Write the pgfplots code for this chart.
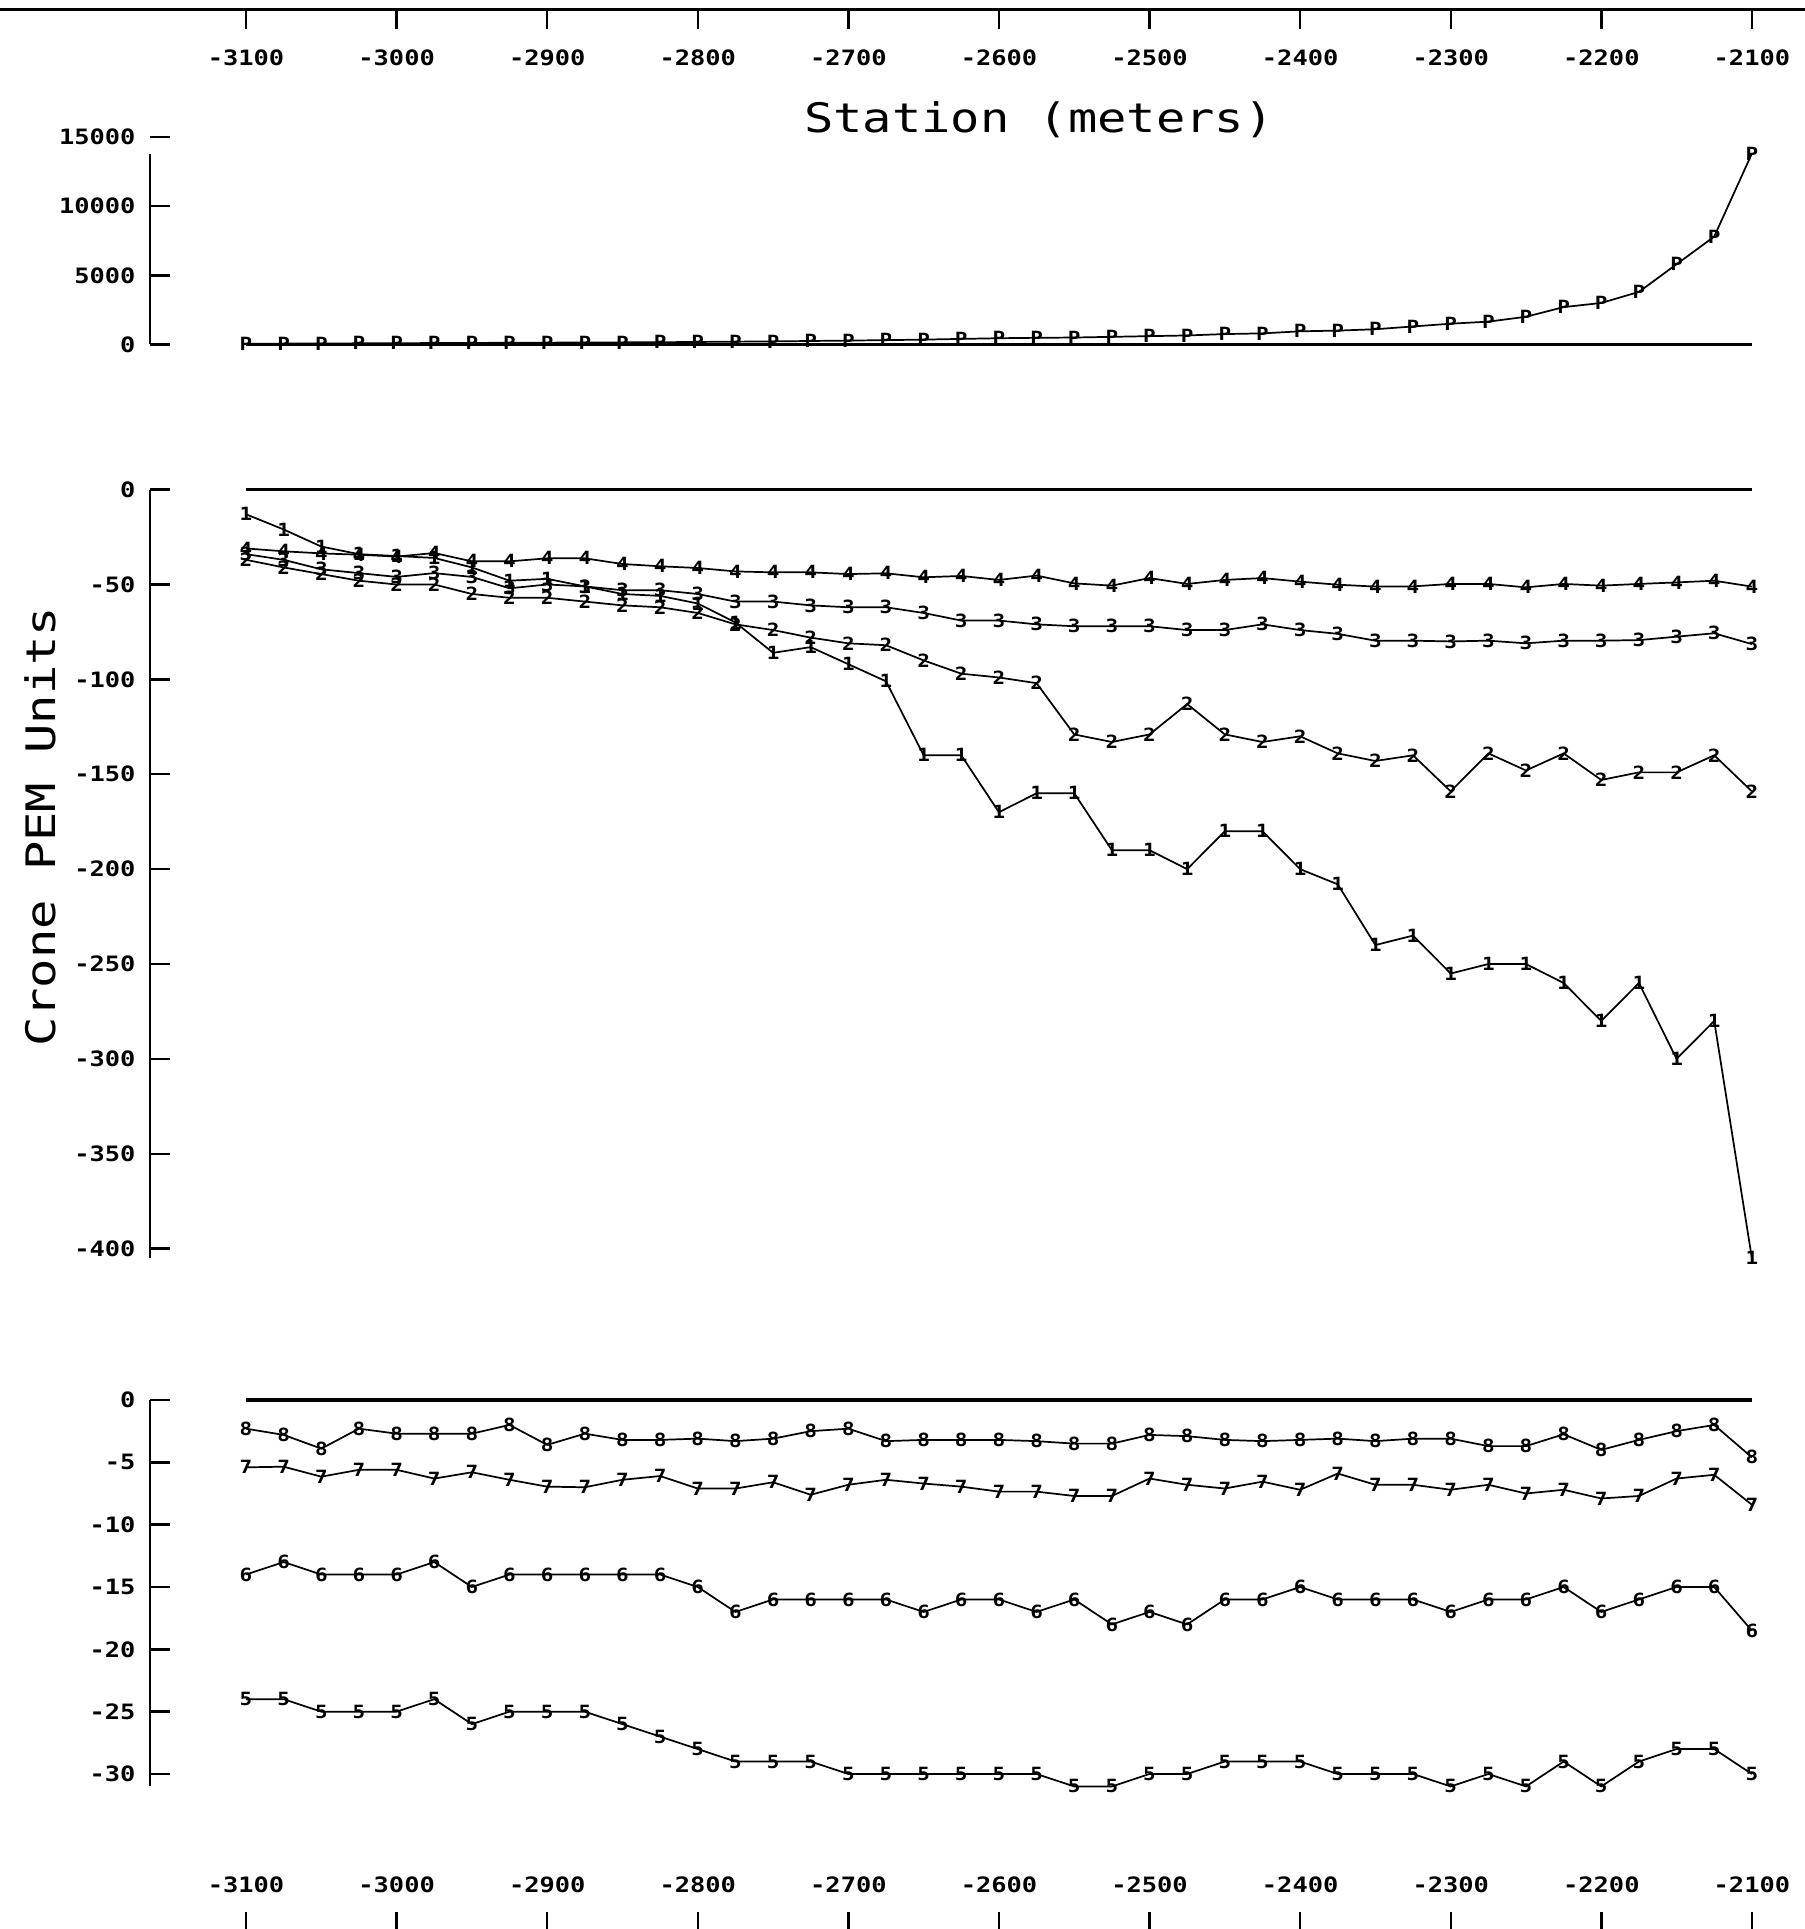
\documentclass[border=0pt]{standalone}
\usepackage{fontspec}
\usepackage{pgfplots}
\usepackage{pgfplotstable}
\pgfplotsset{compat=1.18}
\newfontfamily\monoA[FakeStretch=1.2]{DejaVu Sans Mono}
\newfontfamily\monoB[FakeStretch=1.15]{DejaVu Sans Mono}
\newcommand\tickf{\monoA\bfseries\fontsize{8.6}{10}\selectfont}
\newcommand\markf{\monoB\bfseries\fontsize{7.4}{8}\selectfont}
\newcommand\titlef{\monoA\fontsize{16.5}{18}\selectfont}

\pgfplotstableread{
S P L1 L2 L3 L4 L5 L6 L7 L8
-3100 50 -13 -37 -34 -31 -24 -14 -5.4 -2.3
-3075 60 -21 -41 -37 -32.5 -24 -13 -5.35 -2.8
-3050 70 -30 -44.5 -42 -33.6 -25 -14 -6.15 -3.9
-3025 80 -34 -48 -44 -34.3 -25 -14 -5.6 -2.3
-3000 90 -35 -50 -46 -35.3 -25 -14 -5.6 -2.7
-2975 100 -36 -50 -44 -33.4 -24 -13 -6.3 -2.7
-2950 110 -41 -55 -46 -37.8 -26 -15 -5.8 -2.7
-2925 120 -48 -57 -52 -37.8 -25 -14 -6.4 -2.0
-2900 130 -47 -57 -50 -36.2 -25 -14 -6.95 -3.6
-2875 140 -51 -59 -51 -36.2 -25 -14 -7.0 -2.7
-2850 150 -55 -61 -53 -39.2 -26 -14 -6.4 -3.2
-2825 160 -56 -62 -53 -40.4 -27 -14 -6.1 -3.2
-2800 180 -60 -65 -55 -41.3 -28 -15 -7.1 -3.1
-2775 200 -70 -71 -59 -43.1 -29 -17 -7.1 -3.3
-2750 220 -86 -74 -59 -43.6 -29 -16 -6.6 -3.1
-2725 250 -83 -78 -61 -43.6 -29 -16 -7.6 -2.5
-2700 280 -92 -81 -62 -44.5 -30 -16 -6.8 -2.3
-2675 310 -101 -82 -62 -44.1 -30 -16 -6.4 -3.3
-2650 350 -140 -90 -65 -46.2 -30 -17 -6.7 -3.2
-2625 400 -140 -97 -69 -45.5 -30 -16 -6.95 -3.2
-2600 450 -170 -99 -69 -47.6 -30 -16 -7.35 -3.2
-2575 480 -160 -102 -71 -45.3 -30 -17 -7.35 -3.3
-2550 500 -160 -129 -72 -49.4 -31 -16 -7.7 -3.5
-2525 550 -190 -133 -72 -50.6 -31 -18 -7.7 -3.5
-2500 600 -190 -129 -72 -46.6 -30 -17 -6.3 -2.8
-2475 650 -200 -113 -74 -49.7 -30 -18 -6.8 -2.9
-2450 750 -180 -129 -74 -47.6 -29 -16 -7.1 -3.2
-2425 800 -180 -133 -71 -46.6 -29 -16 -6.55 -3.3
-2400 950 -200 -130 -74 -48.5 -29 -15 -7.2 -3.2
-2375 1000 -208 -139 -76 -50.1 -30 -16 -5.9 -3.1
-2350 1100 -240 -143 -79.6 -51.1 -30 -16 -6.8 -3.3
-2325 1300 -235 -140 -79.6 -51.0 -30 -16 -6.8 -3.1
-2300 1500 -255 -159 -80 -49.7 -31 -17 -7.2 -3.1
-2275 1650 -250 -139 -79.6 -49.7 -30 -16 -6.8 -3.7
-2250 2000 -250 -148 -81 -51.5 -31 -16 -7.5 -3.7
-2225 2700 -260 -139 -79.6 -49.7 -29 -15 -7.2 -2.75
-2200 3000 -280 -153 -79.6 -50.6 -31 -17 -7.9 -4.0
-2175 3800 -260 -149 -79.3 -49.7 -29 -16 -7.7 -3.2
-2150 5800 -300 -149 -77.5 -48.9 -28 -15 -6.3 -2.5
-2125 7800 -280 -140 -75.7 -48.0 -28 -15 -6.0 -2.0
-2100 13800 -405 -159 -81.4 -51.1 -30 -18.5 -8.4 -4.6
}\data

\pgfplotsset{
  panel/.style={scale only axis, anchor=south west, width=651pt,
    xmin=-3163.7, xmax=-2100, axis line style={draw=none},
    xtick=\empty, ytick pos=left, tick align=inside,
    major tick length=8pt, tick style={line width=1pt, black},
    scaled y ticks=false,
    yticklabel style={font=\tickf, inner sep=0pt, anchor=east, xshift=-5.75pt},
    clip=false},
  ser/.style={line width=0.7pt, black, mark=text, text mark={#1},
    text mark as node=true, text mark style={font=\markf, inner sep=0pt}},
  xaxisrow/.style={scale only axis, width=733.5pt, height=5pt,
    xmin=-3263.4, xmax=-2064.9, ymin=0, ymax=1, axis y line=none,
    xtick={-3100,-3000,...,-2100},
    xticklabels={-3100,-3000,-2900,-2800,-2700,-2600,-2500,-2400,-2300,-2200,-2100},
    tick style={line width=1pt, black}},
}

\begin{document}
\begin{tikzpicture}
\useasboundingbox (0,0) rectangle (733.5pt,784pt);

% top x axis
\begin{axis}[xaxisrow, anchor=south west, at={(0pt,780pt)},
  axis x line=bottom, axis line style={-, line width=1.3pt},
  tick align=outside, major tick length=8pt,
  xticklabel style={font=\tickf, inner sep=0pt, anchor=north, yshift=-8pt}]
\addplot[draw=none] coordinates {(-3000,0.5)};
\end{axis}

% bottom x axis
\begin{axis}[xaxisrow, anchor=south west, at={(0pt,0pt)},
  axis x line=bottom, axis line style={draw=none},
  tick align=inside, major tick length=7pt,
  xticklabel style={font=\tickf, inner sep=0pt, anchor=south, yshift=14.5pt}]
\addplot[draw=none] coordinates {(-3000,0.5)};
\end{axis}

% top panel
\begin{axis}[panel, at={(61pt,644pt)}, height=84.3pt, ymin=0, ymax=15000,
  ytick={0,5000,10000,15000}, yticklabels={0,5000,10000,15000}]
\addplot[line width=1pt] coordinates {(-3163.7,0) (-3163.7,13800)};
\addplot[line width=1.3pt] coordinates {(-3100,0) (-2100,0)};
\addplot[ser=P] table[x=S,y=P]{\data};
\end{axis}

% middle panel
\begin{axis}[panel, at={(61pt,276.5pt)}, height=308.5pt, ymin=-400, ymax=0,
  ytick={-400,-350,-300,-250,-200,-150,-100,-50,0},
  yticklabels={-400,-350,-300,-250,-200,-150,-100,-50,0}]
\addplot[line width=1pt] coordinates {(-3163.7,0) (-3163.7,-405)};
\addplot[line width=1.3pt] coordinates {(-3100,0) (-2100,0)};
\addplot[ser=1] table[x=S,y=L1]{\data};
\addplot[ser=2] table[x=S,y=L2]{\data};
\addplot[ser=3] table[x=S,y=L3]{\data};
\addplot[ser=4] table[x=S,y=L4]{\data};
\end{axis}

% bottom panel
\begin{axis}[panel, at={(61pt,63pt)}, height=152pt, ymin=-30, ymax=0,
  ytick={-30,-25,-20,-15,-10,-5,0},
  yticklabels={-30,-25,-20,-15,-10,-5,0}]
\addplot[line width=1pt] coordinates {(-3163.7,0) (-3163.7,-31)};
\addplot[line width=1.3pt] coordinates {(-3100,0) (-2100,0)};
\addplot[ser=5] table[x=S,y=L5]{\data};
\addplot[ser=6] table[x=S,y=L6]{\data};
\addplot[ser=7] table[x=S,y=L7]{\data};
\addplot[ser=8] table[x=S,y=L8]{\data};
\end{axis}

\node[font=\titlef] at (422.25pt,735.5pt) {Station (meters)};
\node[font=\titlef, rotate=90] at (16.5pt,448pt) {Crone PEM Units};
\end{tikzpicture}
\end{document}
